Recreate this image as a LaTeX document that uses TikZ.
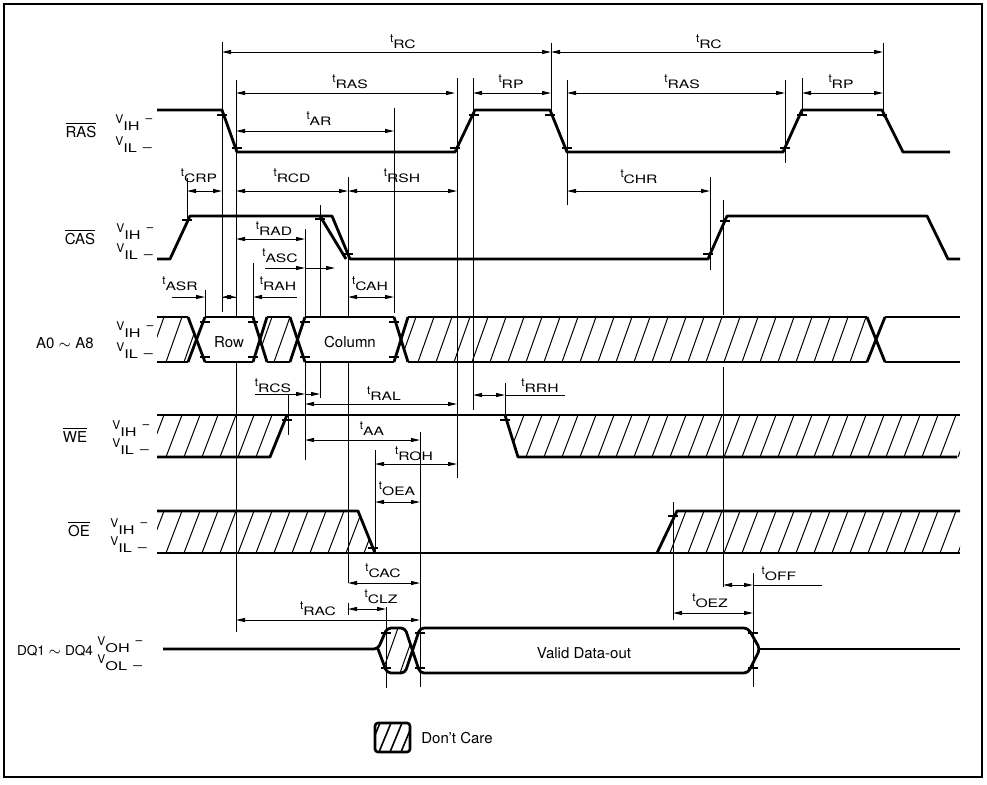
\documentclass[tikz,border=0pt]{standalone}
\usepackage{fontspec}
\setmainfont{TeX Gyre Heros}
\newfontfamily\subf[FakeStretch=1.35]{TeX Gyre Heros}
\usetikzlibrary{arrows.meta}

\newcommand\tm[1]{\raisebox{2.7pt}{t}{\subf #1}}
\newcommand\levh[1]{V\raisebox{-3.5pt}{\subf #1}\hspace{3pt}\raisebox{0.4pt}{–}}
\newcommand\levl[1]{V\raisebox{-3.5pt}{\subf #1\hspace{3pt}\raisebox{0.4pt}{–}}}
\newcommand\hatch[3]{%
  \begin{scope}
    \clip #1;
    \foreach \hx in {130,148,...,980}
      \draw[hline] (\hx,#3) -- (\hx+16,#2);
  \end{scope}}

\begin{document}
\begin{tikzpicture}[x=0.5pt,y=-0.5pt,
    sig/.style={line width=1.4pt,line join=round},
    guide/.style={line width=0.5pt},
    hline/.style={line width=0.5pt},
    tck/.style={line width=0.6pt},
    dim/.style={line width=0.5pt,{Triangle[length=4.5pt,width=2pt]}-{Triangle[length=4.5pt,width=2pt]}},
    half/.style={line width=0.5pt,-{Triangle[length=4.5pt,width=2pt]}},
    tlab/.style={anchor=base,inner sep=0pt,font=\fontsize{5.8}{6}\selectfont},
    vlab/.style={anchor=base west,inner sep=0pt,font=\fontsize{6}{6}\selectfont},
    slab/.style={anchor=base,inner sep=0pt,font=\fontsize{7.5}{8}\selectfont}]
  \useasboundingbox (0,0) rectangle (987,784);
  \draw[line width=1pt] (4,4) rectangle (982,777);

  % guide lines
  \foreach \x/\a/\b in {222/42/312, 236/80/317, 236/362/632, 187/178/218,
      253/263/317, 205/290/317, 305/229/317, 305/362/460, 320/205/317,
      320/362/398, 348/177/317, 348/362/583, 394/108/313, 457/78/478,
      473/78/410, 551/43/115, 567/80/205, 785/80/163, 802/78/115,
      883/43/117, 710/177/270, 723/200/315, 723/367/587, 288/394/435,
      505/383/420, 420/432/687, 375/450/552, 386/607/688, 673/502/620,
      753/573/687, 348/603/615}
    \draw[guide] (\x,\a) -- (\x,\b);

  % timing arrows
  \foreach \a/\b/\y in {222/551/52, 551/883/52, 236/455/93, 473/551/93,
      567/785/93, 802/883/93, 236/394/131, 187/222/191, 236/348/191,
      348/457/191, 567/710/191, 236/305/239, 348/394/297, 305/457/404,
      473/505/395, 305/420/440, 375/457/464, 375/420/502, 348/420/583,
      348/386/609, 236/420/620, 673/753/613, 723/753/585}
    \draw[dim] (\a,\y) -- (\b,\y);
  \draw[half] (265,268) -- (305,268);
  \draw[half] (305,268) -- (335,268);
  \draw[half] (172,297) -- (205,297);
  \draw[half] (236,297) -- (222,297);
  \draw[half] (222,297) -- (236,297);
  \draw[half] (297,297) -- (253,297);
  \draw[half] (255,394) -- (305,394);
  \draw[half] (305,394) -- (320,394);
  \draw[guide] (505,395) -- (565,395);
  \draw[guide] (753,585) -- (822,585);

  % threshold ticks
  \foreach \x/\y in {222/115, 237/148, 455/148, 474/115, 550/115, 567/148,
      785/148, 802/115, 882/115, 187/220, 320/219, 348/254, 708/254, 725/221,
      205/322, 205/357, 253/322, 253/357, 305/322, 305/357, 394/322, 394/357,
      287/420, 505/420, 373/548, 673/516, 386/633, 386/668, 420/633, 420/668,
      753/633, 753/668}
    \draw[tck] (\x-5,\y) -- (\x+5,\y);

  % don't care areas
  \hatch{(157,317) -- (188,317) -- (196.5,339.5) -- (188,362) -- (157,362) -- cycle}{317}{362}
  \hatch{(260,339.5) -- (267,317) -- (290,317) -- (297.5,339.5) -- (290,362) -- (267,362) -- cycle}{317}{362}
  \hatch{(401,339.5) -- (408,317) -- (867,317) -- (876,339.5) -- (867,362) -- (408,362) -- cycle}{317}{362}
  \hatch{(157,415) -- (287,415) -- (270,457) -- (157,457) -- cycle}{415}{457}
  \hatch{(505,415) -- (960,415) -- (960,457) -- (518,457) -- cycle}{415}{457}
  \hatch{(157,511) -- (358,511) -- (375,553) -- (157,553) -- cycle}{511}{553}
  \hatch{(657,553) -- (677,511) -- (960,511) -- (960,553) -- cycle}{511}{553}
  \hatch{(378,649) -- (387,628) -- (405,628) -- (412.5,650.5) -- (405,673) -- (387,673) -- cycle}{628}{673}

  % RAS
  \draw[sig] (157,110) -- (222,110) -- (237,152) -- (455,152) -- (475,110) -- (550,110)
    -- (567,152) -- (783,152) -- (802,110) -- (882,110) -- (903,152) -- (950,152);
  % CAS
  \draw[sig] (157,259) -- (170,259) -- (190,216) -- (332,216) -- (350,259) -- (708,259)
    -- (727,216) -- (927,216) -- (948,259) -- (960,259);
  \draw[sig] (320,216) -- (346,259);
  % A0 - A8
  \foreach \a/\b in {157/188, 205/253, 267/290, 305/394, 408/867, 885/960} {
    \draw[sig] (\a,317) -- (\b,317);
    \draw[sig] (\a,362) -- (\b,362);
  }
  \foreach \a/\b in {188/205, 253/267, 290/305, 394/408, 867/885} {
    \draw[sig] (\a,317) -- (\b,362);
    \draw[sig] (\a,362) -- (\b,317);
  }
  % WE
  \draw[sig] (157,415) -- (960,415);
  \draw[sig] (157,457) -- (270,457) -- (287,415);
  \draw[sig] (505,415) -- (518,457) -- (957,457);
  % OE
  \draw[sig] (157,511) -- (358,511) -- (375,553);
  \draw[sig] (157,553) -- (960,553);
  \draw[sig] (657,553) -- (677,511) -- (960,511);
  % DQ
  \draw[sig,rounded corners=2pt] (163,649) -- (378,649) -- (387,628) -- (405,628) -- (420,673)
    -- (748,673) -- (760,649) -- (748,628) -- (420,628) -- (405,673) -- (387,673) -- (378,649);
  \draw[sig] (760,649) -- (960,649);

  % legend
  \begin{scope}
    \clip (375,723) rectangle (410,752);
    \foreach \hx in {368,379,...,402}
      \draw[line width=0.8pt] (\hx,752) -- (\hx+12,723);
  \end{scope}
  \draw[line width=1.3pt,rounded corners=1.5pt] (375,723) rectangle (410,752);
  \node[slab,anchor=base west] (care) at (421,743) {Don't Care};

  % signal names
  \node[slab] (ras) at (81,137) {$\overline{\mbox{RAS}}$};
  \node[slab] (cas) at (80,244) {$\overline{\mbox{CAS}}$};
  \node[slab] (addr) at (65,348) {A0 $\sim$ A8};
  \node[slab] (we) at (75,442) {$\overline{\mbox{WE}}$};
  \node[slab] (oe) at (79,536) {$\overline{\mbox{OE}}$};
  \node[slab,font=\fontsize{6.8}{8}\selectfont] (dq) at (55,655) {DQ1 $\sim$ DQ4};

  \node[vlab] (rasH) at (115,123) {\levh{IH}};
  \node[vlab] (rasL) at (115,145) {\levl{IL}};
  \node[vlab] (casH) at (116,232) {\levh{IH}};
  \node[vlab] (casL) at (116,252) {\levl{IL}};
  \node[vlab] (adrH) at (116,330) {\levh{IH}};
  \node[vlab] (adrL) at (116,351) {\levl{IL}};
  \node[vlab] (weH) at (112,429) {\levh{IH}};
  \node[vlab] (weL) at (112,447) {\levl{IL}};
  \node[vlab] (oeH) at (110,527) {\levh{IH}};
  \node[vlab] (oeL) at (110,545) {\levl{IL}};
  \node[vlab] (dqH) at (97,645) {\levh{OH}};
  \node[vlab] (dqL) at (97,663) {\levl{OL}};

  \node[slab] (row) at (229,347) {Row};
  \node[slab] (col) at (350,347) {Column};
  \node[slab] (valid) at (584,658) {Valid Data-out};

  % timing names
  \node[tlab] (lRC1) at (403,48) {\tm{RC}};
  \node[tlab] (lRC2) at (709,48) {\tm{RC}};
  \node[tlab] (lRAS1) at (350,88) {\tm{RAS}};
  \node[tlab] (lRP1) at (511,88) {\tm{RP}};
  \node[tlab] (lRAS2) at (682,88) {\tm{RAS}};
  \node[tlab] (lRP2) at (841,88) {\tm{RP}};
  \node[tlab] (lAR) at (319,125) {\tm{AR}};
  \node[tlab] (lCRP) at (199,182) {\tm{CRP}};
  \node[tlab] (lRCD) at (292,182) {\tm{RCD}};
  \node[tlab] (lRSH) at (402,182) {\tm{RSH}};
  \node[tlab] (lCHR) at (639,183) {\tm{CHR}};
  \node[tlab] (lRAD) at (274,235) {\tm{RAD}};
  \node[tlab] (lASC) at (280,262) {\tm{ASC}};
  \node[tlab] (lASR) at (180,290) {\tm{ASR}};
  \node[tlab] (lRAH) at (278,290) {\tm{RAH}};
  \node[tlab] (lCAH) at (370,290) {\tm{CAH}};
  \node[tlab] (lRCS) at (273,392) {\tm{RCS}};
  \node[tlab] (lRAL) at (384,400) {\tm{RAL}};
  \node[tlab] (lRRH) at (540,392) {\tm{RRH}};
  \node[tlab] (lAA) at (372,435) {\tm{AA}};
  \node[tlab] (lROH) at (414,460) {\tm{ROH}};
  \node[tlab] (lOEA) at (397,495) {\tm{OEA}};
  \node[tlab] (lCAC) at (383,577) {\tm{CAC}};
  \node[tlab] (lCLZ) at (381,603) {\tm{CLZ}};
  \node[tlab] (lRAC) at (318,615) {\tm{RAC}};
  \node[tlab] (lOEZ) at (710,607) {\tm{OEZ}};
  \node[tlab] (lOFF) at (779,580) {\tm{OFF}};
\end{tikzpicture}
\end{document}
